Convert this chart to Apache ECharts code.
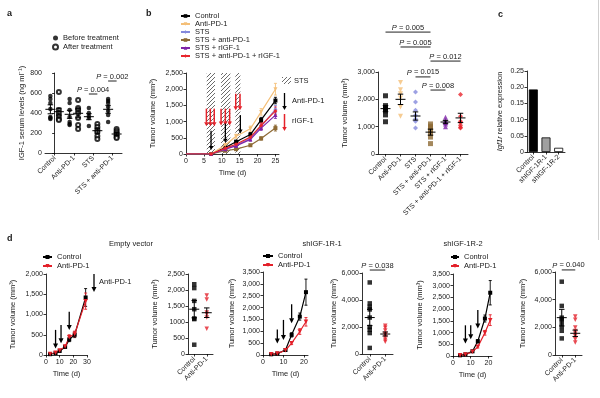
<!DOCTYPE html>
<html>
<head>
<meta charset="utf-8">
<script src="https://cdn.jsdelivr.net/npm/echarts@6/dist/echarts.min.js"></script>
<style>
  html, body { margin: 0; padding: 0; background: #fff; }
  #main { width: 600px; height: 398px; }
</style>
</head>
<body>
<div id="main"></div>
<script>
// ---- panel a: serum IGF-1 before / after treatment
var aCats = ['Control', 'Anti-PD-1', 'STS', 'STS + anti-PD-1'];
var aBefore = [[570, 540, 500, 440, 360, 350, 340], [540, 500, 430, 360, 310, 280, 290], [450, 400, 370, 350, 270], [540, 520, 500, 460, 420, 380, 310]];
var aAfter = [[610, 430, 400, 370, 340, 330], [530, 450, 430, 400, 350, 280, 240], [290, 260, 230, 210, 170, 140], [240, 220, 200, 180, 160, 150]];
var aBeforeMean = [437, 387, 363, 437];
var aBeforeSem = [45, 40, 30, 40];
var aAfterMean = [413, 397, 223, 190];
var aAfterSem = [35, 45, 25, 15];
var aPvals = [[2, 590, '0.004'], [3, 720, '0.002']];

// ---- panel b: growth curves + day 25 volumes
var bGroups = ['Control', 'Anti-PD-1', 'STS', 'STS + anti-PD-1', 'STS + rIGF-1', 'STS + anti-PD-1 + rIGF-1'];
var bDays = [0, 7, 11, 14, 18, 21, 25];
var bGrowth = [
  [0, 0, 200, 380, 600, 1050, 1650],
  [0, 0, 280, 550, 780, 1300, 2000],
  [0, 0, 150, 280, 480, 850, 1380],
  [0, 0, 100, 150, 270, 480, 800],
  [0, 0, 150, 250, 450, 800, 1200],
  [0, 0, 180, 300, 520, 880, 1330]
];
var bGrowthErr = [
  [0, 0, 30, 40, 60, 80, 100],
  [0, 0, 40, 60, 80, 100, 180],
  [0, 0, 20, 40, 50, 80, 120],
  [0, 0, 20, 20, 30, 50, 90],
  [0, 0, 20, 30, 50, 70, 100],
  [0, 0, 25, 35, 50, 80, 120]
];
var bStsPeriods = [[5.8, 8.1], [9.8, 12.4], [13.8, 15.2]];
var bAntiArrows = [[7, 720, 120], [11, 940, 350], [15.2, 1200, 630]];
var bIgfArrows = [[5.7, 1400, 860], [6.8, 1400, 860], [7.9, 1400, 860], [9.8, 1400, 880], [11, 1400, 880], [12.2, 1400, 880], [13.9, 1860, 1350], [15.1, 1860, 1350]];
var bFinal = [
  [2130, 1770, 1700, 1650, 1580, 1430, 1180],
  [2620, 2350, 2200, 2050, 1720, 1380],
  [2270, 1900, 1600, 1420, 1280, 1200, 950],
  [1100, 1020, 950, 850, 750, 620, 380],
  [1340, 1230, 1180, 1150, 1100, 1000],
  [2180, 1380, 1200, 1150, 1050, 980, 950]
];
var bFinalMean = [1660, 2000, 1390, 800, 1170, 1320];
var bFinalSem = [110, 190, 150, 110, 60, 170];
var bPvals = [[0, 3, 4460, '0.005'], [1, 3, 3915, '0.005'], [3, 5, 3400, '0.012'], [2, 3, 2820, '0.015'], [3, 4, 2340, '0.008']];

// ---- panel c: Igf1r expression
var cCats = ['Control', 'shIGF-1R-1', 'shIGF-1R-2'];
var cValues = [0.193, 0.045, 0.013];

// ---- panel d: three cell lines
var dTitles = ['Empty vector', 'shIGF-1R-1', 'shIGF-1R-2'];
var dCats = ['Control', 'Anti-PD-1'];
var dDays = [[3, 7, 10, 14, 17, 21, 29], [4, 7, 11, 14, 18, 21], [4, 7, 11, 14, 18, 21]];
var dCtrl = [[20, 50, 100, 200, 380, 500, 1420], [30, 60, 210, 850, 1620, 2650], [30, 70, 200, 630, 1600, 2700]];
var dCtrlErr = [[8, 10, 20, 30, 50, 70, 220], [10, 15, 30, 90, 150, 550], [10, 15, 30, 70, 150, 520]];
var dAnti = [[25, 55, 110, 210, 440, 520, 1330], [30, 60, 200, 500, 990, 1400], [30, 60, 180, 390, 990, 1530]];
var dAntiErr = [[8, 10, 20, 30, 60, 70, 200], [10, 15, 30, 60, 120, 180], [10, 15, 25, 50, 100, 230]];
var dArrows = [
  [[7, 620, 160], [11, 740, 290], [17, 1070, 620]],
  [[7, 1080, 490], [10, 1480, 630], [14, 2140, 1340]],
  [[7, 1310, 530], [10, 1310, 710], [14, 1960, 1170]]
];
var dFinalCtrl = [[2180, 2060, 1660, 1400, 1110, 1090, 290], [5300, 3750, 3500, 3300, 2700, 2000, 1800, 1550, 450], [5300, 3550, 2700, 2600, 2350, 2050, 1750, 1200]];
var dFinalAnti = [[1830, 1700, 1300, 1240, 1140, 790], [2100, 1950, 1750, 1500, 1400, 1250, 1050, 900], [2780, 2550, 1990, 1740, 1550, 1380, 1140, 900]];
var dFinalMean = [[1400, 1290], [2700, 1480], [2700, 1570]];
var dFinalSem = [[270, 150], [600, 150], [600, 230]];
var dPvals = [null, [0, 1, 6220, '0.038'], [0, 1, 6150, '0.040']];

var FONT = '"Liberation Sans", Arial, Helvetica, sans-serif';
var TXT = '#1a1a1a';
var bColors = ['#000000', '#f4bf78', '#8589dc', '#8d6a35', '#7e22a8', '#e8262d'];
var bSymbols = ['rect', 'triangle', 'diamond', 'rect', 'triangle', 'diamond'];
var bRotate = [0, 180, 0, 0, 0, 0];
var dRed = '#e3202a';
var cFill = ['#000000', '#a0a0a0', '#ffffff'];
var aOff = 0.22;

function comma(v) { return String(v).replace(/\B(?=(\d{3})+(?!\d))/g, ','); }

// diagonal hatch for the STS periods
var hatch = document.createElement('canvas');
hatch.width = 4; hatch.height = 4;
var hc = hatch.getContext('2d');
hc.fillStyle = '#fff'; hc.fillRect(0, 0, 4, 4);
hc.strokeStyle = '#5a5a5a'; hc.lineWidth = 0.9;
hc.beginPath();
hc.moveTo(0, 4); hc.lineTo(4, 0);
hc.moveTo(-1, 1); hc.lineTo(1, -1);
hc.moveTo(3, 5); hc.lineTo(5, 3);
hc.stroke();
var hatchFill = { image: hatch, repeat: 'repeat' };

var axLine = { show: true, lineStyle: { color: '#000', width: 0.8 } };
var axTick = { show: true, length: 2.5, lineStyle: { color: '#000', width: 0.8 } };
var nameStyle = { fontSize: 7.5, color: TXT, fontFamily: FONT };

function yAx(grid, max, interval, name, gap, fmt) {
  return {
    type: 'value', gridIndex: grid, min: 0, max: max, interval: interval,
    name: name, nameLocation: 'middle', nameGap: gap,
    nameTextStyle: { fontSize: 7.5, color: TXT, fontFamily: FONT, rich: { i: { fontStyle: 'italic', fontSize: 7.5, color: TXT, fontFamily: FONT } } },
    axisLine: axLine, axisTick: axTick,
    axisLabel: { fontSize: 7, color: TXT, fontFamily: FONT, margin: 3, formatter: fmt || comma },
    splitLine: { show: false }
  };
}
function xCat(grid, cats) {
  return {
    type: 'category', gridIndex: grid, data: cats, position: 'bottom',
    axisLine: axLine,
    axisTick: { show: true, alignWithLabel: true, length: 2.5, lineStyle: { color: '#000', width: 0.8 } },
    axisLabel: { rotate: 45, interval: 0, fontSize: 7, color: TXT, fontFamily: FONT, margin: 4 },
    splitLine: { show: false }
  };
}
function xTime(grid, max, ticks, interval) {
  return {
    type: 'value', gridIndex: grid, min: 0, max: max, interval: interval,
    name: 'Time (d)', nameLocation: 'middle', nameGap: 15, nameTextStyle: nameStyle,
    axisLine: axLine,
    axisTick: { show: true, length: 2.5, customValues: ticks, lineStyle: { color: '#000', width: 0.8 } },
    axisLabel: { customValues: ticks, fontSize: 7, color: TXT, fontFamily: FONT, margin: 4 },
    splitLine: { show: false }
  };
}

function meanSem(xi, yi, data, hw) {
  return {
    type: 'custom', xAxisIndex: xi, yAxisIndex: yi, silent: true, z: 4,
    data: data,
    renderItem: function (params, api) {
      var x = api.value(0), m = api.value(1), s = api.value(2);
      var c = api.coord([x, m]), hi = api.coord([x, m + s]), lo = api.coord([x, m - s]);
      var st = { stroke: '#000', lineWidth: 1 };
      return { type: 'group', children: [
        { type: 'line', shape: { x1: c[0] - hw, y1: c[1], x2: c[0] + hw, y2: c[1] }, style: st },
        { type: 'line', shape: { x1: c[0], y1: hi[1], x2: c[0], y2: lo[1] }, style: st },
        { type: 'line', shape: { x1: c[0] - hw * 0.55, y1: hi[1], x2: c[0] + hw * 0.55, y2: hi[1] }, style: st },
        { type: 'line', shape: { x1: c[0] - hw * 0.55, y1: lo[1], x2: c[0] + hw * 0.55, y2: lo[1] }, style: st }
      ] };
    }
  };
}
function errBars(xi, yi, days, vals, errs, color) {
  return {
    type: 'custom', xAxisIndex: xi, yAxisIndex: yi, silent: true, z: 3,
    data: days.map(function (d, j) { return [d, vals[j], errs[j]]; }),
    renderItem: function (params, api) {
      var x = api.value(0), m = api.value(1), s = api.value(2);
      if (!s) return null;
      var hi = api.coord([x, m + s]), lo = api.coord([x, m - s]);
      var st = { stroke: color, lineWidth: 0.9 };
      return { type: 'group', children: [
        { type: 'line', shape: { x1: hi[0], y1: hi[1], x2: lo[0], y2: lo[1] }, style: st },
        { type: 'line', shape: { x1: hi[0] - 1.5, y1: hi[1], x2: hi[0] + 1.5, y2: hi[1] }, style: st },
        { type: 'line', shape: { x1: lo[0] - 1.5, y1: lo[1], x2: lo[0] + 1.5, y2: lo[1] }, style: st }
      ] };
    }
  };
}
function arrows(xi, yi, data, color, lw, hw, hl) {
  return {
    type: 'custom', xAxisIndex: xi, yAxisIndex: yi, silent: true, z: 6,
    data: data,
    renderItem: function (params, api) {
      var a = api.coord([api.value(0), api.value(1)]);
      var b = api.coord([api.value(0), api.value(2)]);
      return { type: 'group', children: [
        { type: 'line', shape: { x1: a[0], y1: a[1], x2: b[0], y2: b[1] - hl + 0.5 }, style: { stroke: color, lineWidth: lw } },
        { type: 'polygon', shape: { points: [[b[0] - hw / 2, b[1] - hl], [b[0] + hw / 2, b[1] - hl], [b[0], b[1]]] }, style: { fill: color } }
      ] };
    }
  };
}
function brackets(xi, yi, data) {
  return {
    type: 'custom', xAxisIndex: xi, yAxisIndex: yi, silent: true, z: 6,
    encode: { x: 0, y: 2 },
    data: data.map(function (d) { return [d[0], d[1], d[2]]; }),
    renderItem: function (params, api) {
      var p1 = api.coord([api.value(0), api.value(2)]);
      var p2 = api.coord([api.value(1), api.value(2)]);
      var lab = data[params.dataIndex][3];
      return { type: 'group', children: [
        { type: 'line', shape: { x1: p1[0], y1: p1[1], x2: p2[0], y2: p2[1] }, style: { stroke: '#222', lineWidth: 1 } },
        { type: 'text', x: (p1[0] + p2[0]) / 2, y: p1[1] - 0.5,
          style: { text: '{i|P} = ' + lab, fill: TXT, fontSize: 7.5, fontFamily: FONT, align: 'center', verticalAlign: 'bottom',
            rich: { i: { fontStyle: 'italic', fontSize: 7.5, fontFamily: FONT, fill: TXT } } } }
      ] };
    }
  };
}
function arrowGlyph(x, y1, y2, color, lw, hw, hl) {
  return { type: 'group', silent: true, children: [
    { type: 'line', shape: { x1: x, y1: y1, x2: x, y2: y2 - hl + 0.5 }, style: { stroke: color, lineWidth: lw } },
    { type: 'polygon', shape: { points: [[x - hw / 2, y2 - hl], [x + hw / 2, y2 - hl], [x, y2]] }, style: { fill: color } }
  ] };
}
function label(text, x, y, size, bold, align) {
  return { type: 'text', x: x, y: y, silent: true,
    style: { text: text, fill: TXT, fontSize: size, fontFamily: FONT, fontWeight: bold ? 'bold' : 'normal', align: align || 'left', verticalAlign: 'middle' } };
}

var grids = [
  { left: 45, top: 73, width: 77, height: 80 },
  { left: 186, top: 73, width: 93, height: 81 },
  { left: 378, top: 72, width: 90, height: 82 },
  { left: 527, top: 71, width: 38, height: 81 },
  { left: 46, top: 274, width: 41, height: 81 },
  { left: 188, top: 274, width: 25, height: 80 },
  { left: 263, top: 272, width: 45, height: 83 },
  { left: 362, top: 273, width: 31, height: 81 },
  { left: 453, top: 274, width: 39, height: 82 },
  { left: 555, top: 272, width: 27, height: 83 }
];

var tv = 'Tumor volume (mm³)';
var xAxes = [
  xCat(0, aCats),
  xTime(1, 26, [0, 5, 10, 15, 20, 25], 5),
  xCat(2, bGroups),
  xCat(3, cCats),
  xTime(4, 30, [0, 10, 20, 30], 10),
  xCat(5, dCats),
  xTime(6, 22, [0, 10, 20], 10),
  xCat(7, dCats),
  xTime(8, 22, [0, 10, 20], 10),
  xCat(9, dCats),
  { type: 'value', gridIndex: 0, min: -0.5, max: 3.5, show: false, position: 'bottom' }
];
var yAxes = [
  yAx(0, 800, 200, 'IGF-1 serum levels (ng ml⁻¹)', 18),
  yAx(1, 2500, 500, tv, 29),
  yAx(2, 3000, 1000, tv, 29),
  yAx(3, 0.25, 0.05, '{i|Igf1r} relative expression', 23, function (v) { return v === 0 ? '0' : v.toFixed(2); }),
  yAx(4, 2000, 500, tv, 29),
  yAx(5, 2500, 500, tv, 29, function (v) { return v === 1000 ? '1000' : comma(v); }),
  yAx(6, 3500, 500, tv, 27),
  yAx(7, 6000, 2000, tv, 23),
  yAx(8, 3500, 500, tv, 29),
  yAx(9, 6000, 2000, tv, 28)
];

var series = [];

// a
function flat(groups, off) {
  var out = [];
  groups.forEach(function (g, i) { g.forEach(function (v) { out.push([i + off, v]); }); });
  return out;
}
series.push({ name: 'Before treatment', type: 'scatter', xAxisIndex: 10, yAxisIndex: 0, symbol: 'circle', symbolSize: 4.5,
  itemStyle: { color: '#000' }, data: flat(aBefore, -aOff) });
series.push({ name: 'After treatment', type: 'scatter', xAxisIndex: 10, yAxisIndex: 0, symbol: 'emptyCircle', symbolSize: 4,
  itemStyle: { color: '#000', borderWidth: 0.8 }, data: flat(aAfter, aOff) });
series.push(meanSem(10, 0, aBeforeMean.map(function (m, i) { return [i - aOff, m, aBeforeSem[i]]; }), 5));
series.push(meanSem(10, 0, aAfterMean.map(function (m, i) { return [i + aOff, m, aAfterSem[i]]; }), 5));
series.push(brackets(10, 0, aPvals.map(function (p) { return [p[0] - aOff, p[0] + aOff, p[1], p[2]]; })));

// b growth curves
bGroups.forEach(function (g, i) {
  var s = {
    name: g, type: 'line', xAxisIndex: 1, yAxisIndex: 1, z: 3 + i * 0.01,
    symbol: bSymbols[i], symbolRotate: bRotate[i], symbolSize: 4,
    lineStyle: { color: bColors[i], width: 1.2 }, itemStyle: { color: bColors[i] },
    data: bDays.map(function (d, j) { return j === 0 ? { value: [d, bGrowth[i][j]], symbol: 'none' } : [d, bGrowth[i][j]]; })
  };
  if (i === 0) {
    s.markArea = { silent: true, itemStyle: { color: hatchFill, borderWidth: 0 },
      data: bStsPeriods.map(function (p) { return [{ xAxis: p[0], yAxis: 0 }, { xAxis: p[1], yAxis: 2500 }]; }) };
  }
  series.push(s);
  series.push(errBars(1, 1, bDays, bGrowth[i], bGrowthErr[i], bColors[i]));
});
series.push(arrows(1, 1, bIgfArrows, '#e5222a', 1.5, 4.5, 4));
series.push(arrows(1, 1, bAntiArrows, '#000', 1.3, 4.5, 4));

// b end-point volumes
bGroups.forEach(function (g, i) {
  series.push({ type: 'scatter', xAxisIndex: 2, yAxisIndex: 2, symbol: bSymbols[i], symbolRotate: bRotate[i], symbolSize: 5,
    itemStyle: { color: bColors[i] }, data: bFinal[i].map(function (v) { return [i, v]; }) });
});
series.push(meanSem(2, 2, bFinalMean.map(function (m, i) { return [i, m, bFinalSem[i]]; }), 5));
series.push(brackets(2, 2, bPvals));

// c
series.push({ type: 'bar', xAxisIndex: 3, yAxisIndex: 3, barWidth: 9,
  data: cValues.map(function (v, i) { return { value: v, itemStyle: { color: cFill[i], borderColor: '#000', borderWidth: 0.8 } }; }) });

// d
dTitles.forEach(function (t, k) {
  var gl = 4 + 2 * k, gs = 5 + 2 * k;
  series.push({ name: 'Control', type: 'line', xAxisIndex: gl, yAxisIndex: gl, symbol: 'rect', symbolSize: 4,
    lineStyle: { color: '#000', width: 1.2 }, itemStyle: { color: '#000' },
    data: dDays[k].map(function (d, j) { return [d, dCtrl[k][j]]; }) });
  series.push(errBars(gl, gl, dDays[k], dCtrl[k], dCtrlErr[k], '#000'));
  series.push({ name: 'Anti-PD-1', type: 'line', xAxisIndex: gl, yAxisIndex: gl, symbol: 'triangle', symbolRotate: 180, symbolSize: 4.5,
    lineStyle: { color: dRed, width: 1.2 }, itemStyle: { color: dRed },
    data: dDays[k].map(function (d, j) { return [d, dAnti[k][j]]; }) });
  series.push(errBars(gl, gl, dDays[k], dAnti[k], dAntiErr[k], dRed));
  series.push(arrows(gl, gl, dArrows[k], '#000', 1.3, 5, 5));

  series.push({ type: 'scatter', xAxisIndex: gs, yAxisIndex: gs, symbol: 'rect', symbolSize: 4.5,
    itemStyle: { color: '#000' }, data: dFinalCtrl[k].map(function (v) { return [0, v]; }) });
  series.push({ type: 'scatter', xAxisIndex: gs, yAxisIndex: gs, symbol: 'triangle', symbolRotate: 180, symbolSize: 4.5,
    itemStyle: { color: dRed }, data: dFinalAnti[k].map(function (v) { return [1, v]; }) });
  series.push(meanSem(gs, gs, dFinalMean[k].map(function (m, i) { return [i, m, dFinalSem[k][i]]; }), 5));
  if (dPvals[k]) series.push(brackets(gs, gs, [dPvals[k]]));
});

var legTxt = { fontSize: 7.5, color: TXT, fontFamily: FONT, lineHeight: 8 };
function dLegend(left, top, w) {
  return { left: left, top: top, orient: 'vertical', itemWidth: w, itemHeight: 5, itemGap: 1, padding: 0,
    textStyle: legTxt, selectedMode: false,
    data: [{ name: 'Control' }, { name: 'Anti-PD-1', itemStyle: { color: dRed }, lineStyle: { color: dRed } }] };
}

var graphics = [
  label('a', 7, 13.5, 9, true),
  label('b', 146, 14, 9, true),
  label('c', 498, 15, 9, true),
  label('d', 7, 239, 9, true),
  label(dTitles[0], 131, 244, 7.5, false, 'center'),
  label(dTitles[1], 322, 244, 7.5, false, 'center'),
  label(dTitles[2], 463, 244, 7.5, false, 'center'),
  { type: 'rect', silent: true, shape: { x: 282, y: 77, width: 9, height: 7 }, style: { fill: hatchFill } },
  label('STS', 294, 80.5, 7.5),
  arrowGlyph(284.5, 93, 110, '#000', 1.3, 4.5, 4),
  label('Anti-PD-1', 292, 101, 7.5),
  arrowGlyph(284.5, 114, 131, '#e5222a', 1.5, 4.5, 4),
  label('rIGF-1', 292, 121, 7.5),
  arrowGlyph(94, 274, 292, '#000', 1.3, 5, 5),
  label('Anti-PD-1', 99, 282, 7.5),
  { type: 'line', silent: true, shape: { x1: 598.5, y1: 0, x2: 598.5, y2: 240 }, style: { stroke: '#cfcfcf', lineWidth: 1 } }
];

var chart = echarts.init(document.getElementById('main'), null, { renderer: 'canvas' });
chart.setOption({
  animation: false,
  backgroundColor: '#fff',
  textStyle: { fontFamily: FONT },
  grid: grids,
  xAxis: xAxes,
  yAxis: yAxes,
  legend: [
    { left: 52, top: 34, orient: 'vertical', itemWidth: 5, itemHeight: 5, itemGap: 1, padding: 0, textStyle: legTxt, selectedMode: false,
      data: [{ name: 'Before treatment', icon: 'circle' }, { name: 'After treatment', icon: 'emptyCircle' }] },
    { left: 180, top: 12, orient: 'vertical', itemWidth: 9, itemHeight: 4.5, itemGap: 0, padding: 0, selectedMode: false,
      textStyle: { fontSize: 7.5, color: TXT, fontFamily: FONT, lineHeight: 7.6 }, data: bGroups },
    dLegend(42, 253, 9),
    dLegend(262, 252, 10),
    dLegend(450, 253, 8)
  ],
  graphic: graphics,
  series: series
});
</script>
</body>
</html>
